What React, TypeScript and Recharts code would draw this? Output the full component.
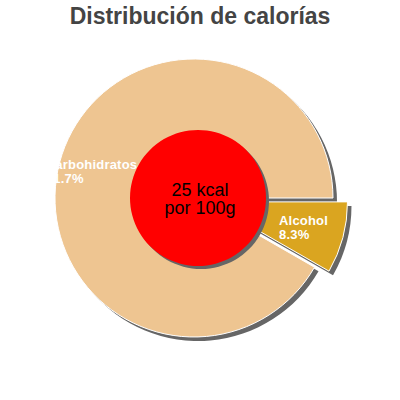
import React from 'react';
import { PieChart, Pie, Cell } from 'recharts';

const title = 'Distribución de calorías';
const categories = ['Alcohol', 'Carbohidratos'];
const percents = [8.3, 91.7];
const centerLines = ['25 kcal', 'por 100g'];

const colors = ['#DAA520', '#EEC591'];
const shadow = '#666666';

const data = categories.map((name, i) => ({ name, value: percents[i] }));
const disc = [{ name: 'total', value: 1 }];

// geometry
const CX = 194;
const CY = 198;
const R = 139;
const EXPLODE = 15;
const SH = 4;
const ex = CX + EXPLODE * Math.cos((15 * Math.PI) / 180);
const ey = CY + EXPLODE * Math.sin((15 * Math.PI) / 180);

const sliceLabel = (show: string, k: number) => (props: any) => {
  const { cx, cy, midAngle, outerRadius, name, value } = props;
  if (name !== show) return null;
  const rad = (-midAngle * Math.PI) / 180;
  const px = cx + outerRadius * k * Math.cos(rad);
  const py = cy + outerRadius * k * Math.sin(rad);
  const w = Math.max(name.length, 5) * 7.1;
  const x0 = px - w / 2;
  return (
    <text fill="#fff" fontFamily="Liberation Sans, Arial, sans-serif" fontSize={13} fontWeight="bold" letterSpacing={0.2}>
      <tspan x={x0} y={py - 2}>{name}</tspan>
      <tspan x={x0} y={py + 12}>{value}%</tspan>
    </text>
  );
};

const centerLabel = (props: any) => {
  const { cx, cy } = props;
  return (
    <text fill="#000" fontFamily="Liberation Sans, Arial, sans-serif" fontSize={18} textAnchor="middle">
      <tspan x={cx + 2} y={cy - 2}>{centerLines[0]}</tspan>
      <tspan x={cx + 2} y={cy + 16}>{centerLines[1]}</tspan>
    </text>
  );
};

const App: React.FC = () => {
  return (
    <div style={{ position: 'absolute', left: 0, top: 0, width: 400, height: 400, background: '#fff' }}>
      <div
        style={{
          position: 'absolute',
          left: 0,
          top: 5,
          width: 400,
          textAlign: 'center',
          fontFamily: 'Liberation Sans, Arial, sans-serif',
          fontWeight: 'bold',
          fontSize: 23,
          lineHeight: '23px',
          color: '#444',
        }}
      >
        {title}
      </div>
      <PieChart width={400} height={400} margin={{ top: 0, right: 0, bottom: 0, left: 0 }}>
        {/* shadows */}
        <Pie data={data} dataKey="value" cx={CX + SH} cy={CY + SH} outerRadius={R} startAngle={0} endAngle={-360} stroke="none" isAnimationActive={false}>
          {data.map((d, i) => (
            <Cell key={d.name} fill={i === 1 ? shadow : 'transparent'} />
          ))}
        </Pie>
        <Pie data={data} dataKey="value" cx={ex + SH} cy={ey + SH} outerRadius={R} startAngle={0} endAngle={-360} stroke="none" isAnimationActive={false}>
          {data.map((d, i) => (
            <Cell key={d.name} fill={i === 0 ? shadow : 'transparent'} />
          ))}
        </Pie>
        {/* main slices */}
        <Pie data={data} dataKey="value" cx={CX} cy={CY} outerRadius={R} startAngle={0} endAngle={-360} isAnimationActive={false} labelLine={false} label={sliceLabel('Carbohidratos', 0.76)}>
          {data.map((d, i) => (
            <Cell key={d.name} fill={i === 1 ? colors[1] : 'transparent'} stroke={i === 1 ? '#fff' : 'none'} strokeWidth={1} />
          ))}
        </Pie>
        <Pie data={data} dataKey="value" cx={ex} cy={ey} outerRadius={R} startAngle={0} endAngle={-360} isAnimationActive={false} labelLine={false} label={sliceLabel('Alcohol', 0.71)}>
          {data.map((d, i) => (
            <Cell key={d.name} fill={i === 0 ? colors[0] : 'transparent'} stroke={i === 0 ? '#fff' : 'none'} strokeWidth={1} />
          ))}
        </Pie>
        {/* centre disc */}
        <Pie data={disc} dataKey="value" cx={198 + 3} cy={198 + 3} outerRadius={68} startAngle={0} endAngle={360} fill={shadow} stroke="none" isAnimationActive={false} />
        <Pie data={disc} dataKey="value" cx={198} cy={198} outerRadius={68} startAngle={0} endAngle={360} fill="#FF0000" stroke="none" isAnimationActive={false} labelLine={false} label={centerLabel} />
      </PieChart>
    </div>
  );
};

export default App;
